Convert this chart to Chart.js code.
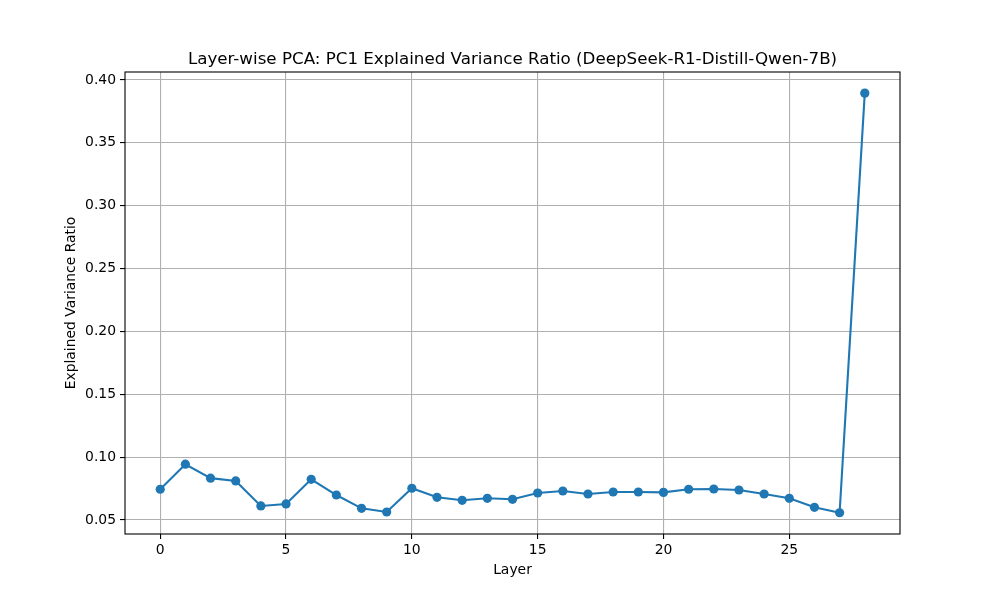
<!DOCTYPE html>
<html>
<head>
<meta charset="utf-8">
<script src="https://cdn.jsdelivr.net/npm/chart.js@4"></script>
<style>
  body { margin: 0; background: #fff; }
  #chart { display: block; }
</style>
</head>
<body>
<canvas id="chart" width="1000" height="600"></canvas>
<script>
// values
const layers = [0,1,2,3,4,5,6,7,8,9,10,11,12,13,14,15,16,17,18,19,20,21,22,23,24,25,26,27,28];
const ratios = [0.0745,0.0944,0.0833,0.0811,0.0612,0.0628,0.0824,0.0699,0.0593,0.0564,
                0.0753,0.0681,0.0657,0.0673,0.0665,0.0715,0.0731,0.0707,0.0723,0.0723,
                0.0720,0.0745,0.0747,0.0739,0.0707,0.0673,0.0601,0.0558,0.3895];
const xTicks = [0,5,10,15,20,25];
const yTicks = [0.05,0.10,0.15,0.20,0.25,0.30,0.35,0.40];

const titleText = "Layer-wise PCA: PC1 Explained Variance Ratio (DeepSeek-R1-Distill-Qwen-7B)";
const xLabel = "Layer";
const yLabel = "Explained Variance Ratio";

const FONT = "'DejaVu Sans', sans-serif";

// frame + title + axis labels, matplotlib style
const decor = {
  id: "decor",
  afterDraw(chart) {
    const { ctx, chartArea: a } = chart;
    ctx.save();
    ctx.strokeStyle = "#000";
    ctx.lineWidth = 1.1;
    ctx.strokeRect(a.left, a.top, a.right - a.left, a.bottom - a.top);

    ctx.fillStyle = "#000";
    const cx = (a.left + a.right) / 2;
    ctx.textAlign = "center";
    ctx.font = "16.7px " + FONT;
    ctx.textBaseline = "alphabetic";
    ctx.fillText(titleText, cx, a.top - 8.3);

    ctx.font = "13.9px " + FONT;
    ctx.textBaseline = "top";
    ctx.fillText(xLabel, cx, a.bottom + 29);

    ctx.translate(71, (a.top + a.bottom) / 2);
    ctx.rotate(-Math.PI / 2);
    ctx.textBaseline = "middle";
    ctx.fillText(yLabel, 0, 0);
    ctx.restore();
  }
};

new Chart(document.getElementById("chart").getContext("2d"), {
  type: "line",
  data: {
    datasets: [{
      data: layers.map((l, i) => ({ x: l, y: ratios[i] })),
      borderColor: "#1f77b4",
      backgroundColor: "#1f77b4",
      borderWidth: 2.1,
      pointRadius: 4.6,
      pointHoverRadius: 4.6,
      pointBorderWidth: 0,
      tension: 0
    }]
  },
  options: {
    responsive: false,
    animation: false,
    layout: { padding: { left: 0, top: 72, right: 100, bottom: 0 } },
    plugins: { legend: { display: false }, tooltip: { enabled: false }, title: { display: false } },
    scales: {
      x: {
        type: "linear",
        min: -1.4,
        max: 29.4,
        afterBuildTicks: s => { s.ticks = xTicks.map(v => ({ value: v })); },
        afterFit: s => { s.height = 66; },
        grid: { color: "#b0b0b0", lineWidth: 1.1, tickColor: "#000", tickLength: 5, tickWidth: 1.1 },
        border: { display: false },
        ticks: { color: "#000", font: { family: FONT, size: 13.9 }, padding: 3, maxRotation: 0,
                 callback: v => String(v) }
      },
      y: {
        min: 0.0389,
        max: 0.4063,
        afterBuildTicks: s => { s.ticks = yTicks.map(v => ({ value: v })); },
        afterFit: s => { s.width = 125; },
        grid: { color: "#b0b0b0", lineWidth: 1.1, tickColor: "#000", tickLength: 5, tickWidth: 1.1 },
        border: { display: false },
        ticks: { color: "#000", font: { family: FONT, size: 13.9 }, padding: 4,
                 callback: v => v.toFixed(2) }
      }
    }
  },
  plugins: [decor]
});
</script>
</body>
</html>
